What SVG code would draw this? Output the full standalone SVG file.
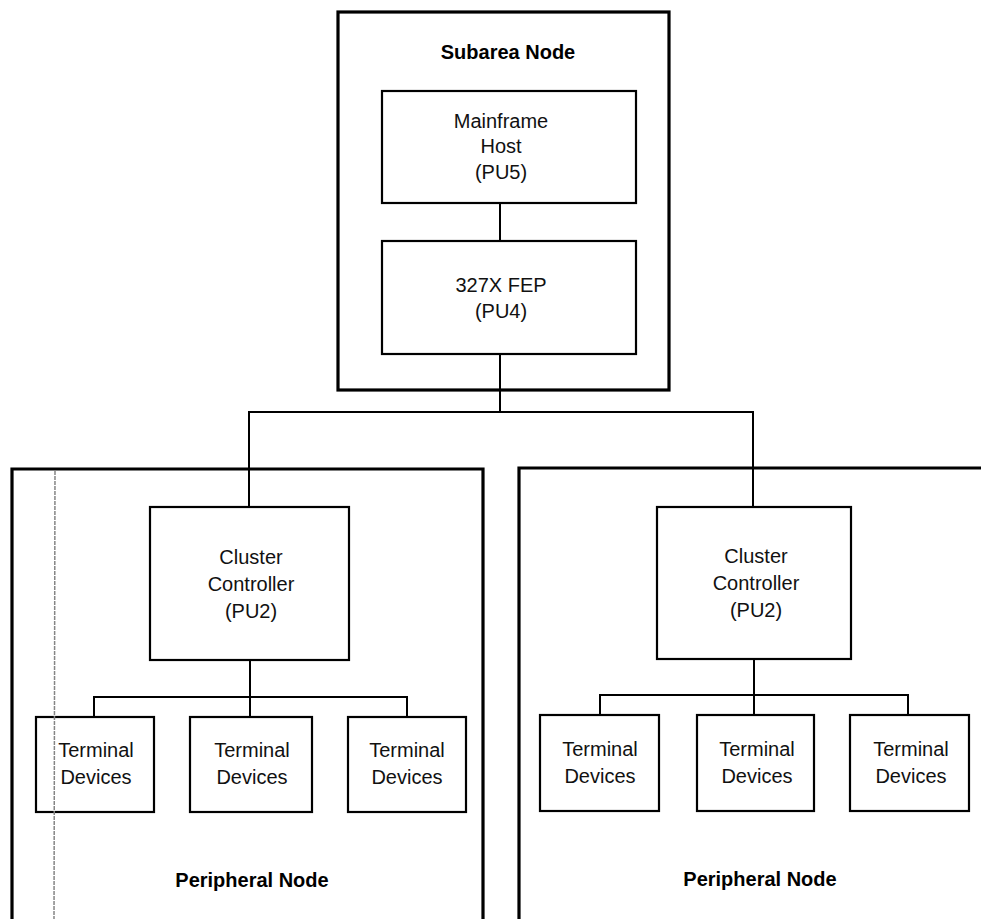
<svg xmlns="http://www.w3.org/2000/svg" width="981" height="919" viewBox="0 0 981 919">
  <style>
    .frame { fill: none; stroke: #000; stroke-width: 3.2; }
    .box { fill: #fff; stroke: #000; stroke-width: 2.2; }
    .link { fill: none; stroke: #000; stroke-width: 2; }
    .lbl { font-family: "Liberation Sans", Arial, Helvetica, sans-serif; font-size: 20px; fill: #111; text-anchor: middle; }
    .title { font-family: "Liberation Sans", Arial, Helvetica, sans-serif; font-size: 20px; font-weight: bold; fill: #000; text-anchor: middle; }
    .streak { fill: none; stroke: #858585; stroke-width: 1.5; stroke-dasharray: 4 1; }
  </style>
  <rect width="981" height="919" fill="#fff"/>

  <!-- Subarea node -->
  <g id="subarea-node">
    <rect class="frame" x="338" y="12" width="331" height="378"/>
    <text class="title" x="508" y="59">Subarea Node</text>
  </g>

  <!-- Peripheral nodes (open at the page edges) -->
  <g id="peripheral-node-left">
    <path class="frame" d="M12,919 V469 H483 V919"/>
    <text class="title" x="252" y="887">Peripheral Node</text>
  </g>
  <g id="peripheral-node-right">
    <path class="frame" d="M519,919 V468 H981"/>
    <text class="title" x="760" y="886">Peripheral Node</text>
  </g>

  <!-- Connectors -->
  <g id="connectors">
    <line class="link" x1="500" y1="203" x2="500" y2="241"/>
    <path class="link" d="M500,354 V412"/>
    <path class="link" d="M249,507 V412 H753 V507"/>
    <line class="link" x1="250" y1="660" x2="250" y2="717"/>
    <path class="link" d="M94,717 V697 H407 V717"/>
    <line class="link" x1="754" y1="659" x2="754" y2="715"/>
    <path class="link" d="M600,715 V695 H908 V715"/>
  </g>

  <g id="mainframe-host">
    <rect class="box" x="382" y="91" width="254" height="112"/>
    <text class="lbl" x="501" y="128">Mainframe</text>
    <text class="lbl" x="501" y="153">Host</text>
    <text class="lbl" x="501" y="179">(PU5)</text>
  </g>

  <g id="fep">
    <rect class="box" x="382" y="241" width="254" height="113"/>
    <text class="lbl" x="501" y="292">327X FEP</text>
    <text class="lbl" x="501" y="318">(PU4)</text>
  </g>

  <g id="cluster-controller-left">
    <rect class="box" x="150" y="507" width="199" height="153"/>
    <text class="lbl" x="251" y="564">Cluster</text>
    <text class="lbl" x="251" y="591">Controller</text>
    <text class="lbl" x="251" y="618">(PU2)</text>
  </g>

  <g id="cluster-controller-right">
    <rect class="box" x="657" y="507" width="194" height="152"/>
    <text class="lbl" x="756" y="563">Cluster</text>
    <text class="lbl" x="756" y="590">Controller</text>
    <text class="lbl" x="756" y="617">(PU2)</text>
  </g>

  <g id="terminal-left-1">
    <rect class="box" x="36" y="717" width="118" height="95"/>
    <text class="lbl" x="96" y="757">Terminal</text>
    <text class="lbl" x="96" y="784">Devices</text>
  </g>
  <g id="terminal-left-2">
    <rect class="box" x="190" y="717" width="122" height="95"/>
    <text class="lbl" x="252" y="757">Terminal</text>
    <text class="lbl" x="252" y="784">Devices</text>
  </g>
  <g id="terminal-left-3">
    <rect class="box" x="348" y="717" width="118" height="95"/>
    <text class="lbl" x="407" y="757">Terminal</text>
    <text class="lbl" x="407" y="784">Devices</text>
  </g>

  <g id="terminal-right-1">
    <rect class="box" x="540" y="715" width="119" height="96"/>
    <text class="lbl" x="600" y="756">Terminal</text>
    <text class="lbl" x="600" y="783">Devices</text>
  </g>
  <g id="terminal-right-2">
    <rect class="box" x="697" y="715" width="117" height="96"/>
    <text class="lbl" x="757" y="756">Terminal</text>
    <text class="lbl" x="757" y="783">Devices</text>
  </g>
  <g id="terminal-right-3">
    <rect class="box" x="850" y="715" width="119" height="96"/>
    <text class="lbl" x="911" y="756">Terminal</text>
    <text class="lbl" x="911" y="783">Devices</text>
  </g>

  <!-- faint vertical streak across the left panel -->
  <line class="streak" x1="55" y1="471" x2="54" y2="919"/>
</svg>
